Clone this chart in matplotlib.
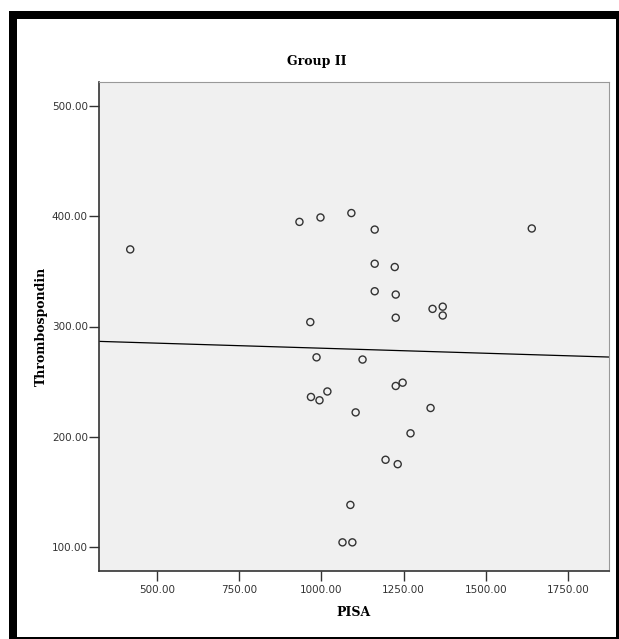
import numpy as np
import matplotlib
matplotlib.use("Agg")
import matplotlib.pyplot as plt
from matplotlib.patches import Rectangle

pisa = [418, 933, 997, 1091, 1162, 1162, 1223, 1162, 1226, 1226, 1338, 1369, 1369, 1640,
        966, 985, 1125, 968, 994, 1018, 1104, 1226, 1247, 1332, 1271, 1195, 1232, 1088, 1064, 1094]
thrombospondin = [370, 395, 399, 403, 388, 357, 354, 332, 329, 308, 316, 318, 310, 389,
                  304, 272, 270, 236, 233, 241, 222, 246, 249, 226, 203, 179, 175, 138, 104, 104]
x_ticks = [500, 750, 1000, 1250, 1500, 1750]
y_ticks = [100, 200, 300, 400, 500]
title = "Group II"
xlabel = "PISA"
ylabel = "Thrombospondin"

W, H = 619, 639
fig = plt.figure(figsize=(W / 100, H / 100), dpi=100)
fig.patch.set_facecolor("white")

# frame around the figure
def frect(x0, y0, x1, y1):
    fig.patches.append(Rectangle((x0 / W, 1 - y1 / H), (x1 - x0) / W, (y1 - y0) / H,
                                 transform=fig.transFigure, facecolor="black",
                                 edgecolor="none", zorder=0))
frect(9, 11, 619, 19)     # top
frect(9, 11, 17, 639)     # left
frect(616, 11, 619, 639)  # right
frect(9, 637, 619, 639)   # bottom

L, R, T, B = 99, 609, 82, 571
ax = fig.add_axes([L / W, 1 - B / H, (R - L) / W, (B - T) / H])
ax.set_facecolor("#f0f0f0")

ax.scatter(pisa, thrombospondin, s=26, facecolors="none", edgecolors="#333333",
           linewidths=1.0, zorder=3)

xmin, xmax = 323, 1875
ax.set_xlim(xmin, xmax)
ax.set_ylim(78, 522)

slope, intercept = np.polyfit(pisa, thrombospondin, 1)
xs = np.array([xmin, xmax])
ax.plot(xs, intercept + slope * xs, color="black", lw=0.9, zorder=2)

ax.set_xticks(x_ticks)
ax.set_yticks(y_ticks)
ax.set_xticklabels([f"{v:.2f}" for v in x_ticks])
ax.set_yticklabels([f"{v:.2f}" for v in y_ticks])
ax.tick_params(axis="both", labelsize=7.5, colors="#333333", length=7, width=1,
               direction="out", pad=1)
ax.tick_params(axis="x", pad=3)

for side in ["left", "bottom"]:
    ax.spines[side].set_color("#333333")
    ax.spines[side].set_linewidth(1.2)
for side in ["top", "right"]:
    ax.spines[side].set_color("#999999")
    ax.spines[side].set_linewidth(0.8)

fprops = dict(fontfamily="DejaVu Serif", fontweight="bold", fontsize=9)
fig.text(317 / W, 1 - 62 / H, title, ha="center", va="center", **fprops)
ax.set_xlabel(xlabel, **fprops)
ax.xaxis.set_label_coords(0.5, -(613 - B) / (B - T))
ax.xaxis.label.set_va("center")
ax.set_ylabel(ylabel, **fprops)
ax.yaxis.set_label_coords(-(L - 41) / (R - L), 0.5)
ax.yaxis.label.set_va("center")

fig.savefig("out.png", dpi=100, facecolor="white")
